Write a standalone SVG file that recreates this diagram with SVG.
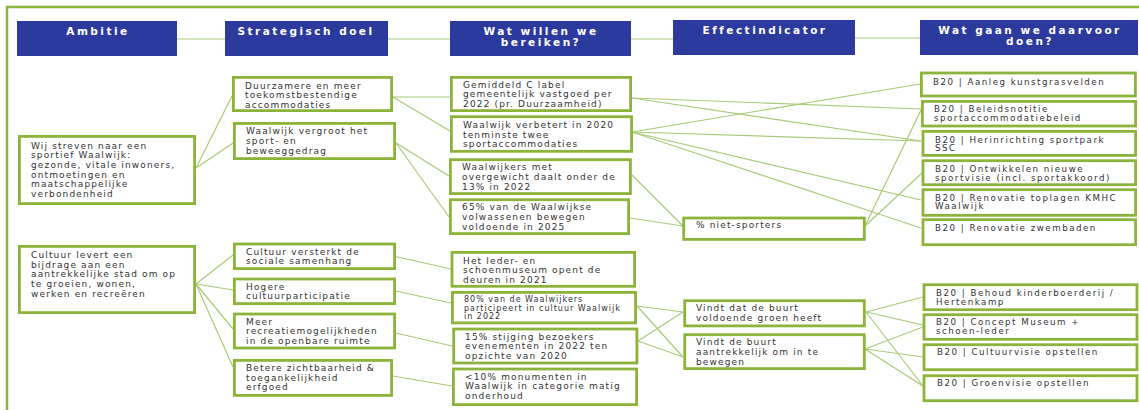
<svg xmlns="http://www.w3.org/2000/svg" width="1139" height="410" viewBox="0 0 1139 410">
<style>
text{font-family:"DejaVu Sans",Verdana,sans-serif;font-size:9px;letter-spacing:1.15px;fill:#333}
.hdr rect{fill:#2c3a9e}
.hdr text{fill:#fff;font-weight:bold;font-size:10.5px;letter-spacing:2.5px;text-anchor:middle}
.node rect{fill:#fff;stroke:#8db43a;stroke-width:2.8}
.r text{font-size:8.7px;letter-spacing:1.5px}
.sm{font-size:8px;letter-spacing:1px}
#connectors line{stroke:#aaca78;stroke-width:1.2}
</style>
<rect x="0" y="0" width="1139" height="410" fill="#fff"/>
<rect x="7" y="7" width="1145" height="420" fill="none" stroke="#8db43a" stroke-width="2.5"/>
<g id="connectors">
<line x1="177" y1="39" x2="225" y2="39"/>
<line x1="388" y1="39" x2="450" y2="39"/>
<line x1="631" y1="39" x2="673" y2="39"/>
<line x1="855" y1="38" x2="920" y2="38"/>
<line x1="196" y1="168" x2="232" y2="96"/>
<line x1="196" y1="168" x2="233" y2="143"/>
<line x1="196" y1="284" x2="233" y2="255"/>
<line x1="196" y1="284" x2="233" y2="290"/>
<line x1="196" y1="284" x2="233" y2="329"/>
<line x1="196" y1="284" x2="233" y2="367"/>
<line x1="393" y1="97" x2="450" y2="97"/>
<line x1="393" y1="97" x2="450" y2="131"/>
<line x1="396" y1="143" x2="449" y2="176"/>
<line x1="396" y1="143" x2="449" y2="217"/>
<line x1="393" y1="256" x2="451" y2="269"/>
<line x1="396" y1="291" x2="451" y2="303"/>
<line x1="396" y1="333" x2="452" y2="346"/>
<line x1="393" y1="376" x2="452" y2="386"/>
<line x1="632" y1="98" x2="921" y2="109"/>
<line x1="632" y1="98" x2="921" y2="141"/>
<line x1="632" y1="132" x2="920" y2="84"/>
<line x1="632" y1="132" x2="921" y2="141"/>
<line x1="632" y1="132" x2="921" y2="200"/>
<line x1="632" y1="132" x2="921" y2="228"/>
<line x1="632" y1="175" x2="683" y2="226"/>
<line x1="630" y1="218" x2="683" y2="226"/>
<line x1="865" y1="226" x2="922" y2="108"/>
<line x1="865" y1="226" x2="922" y2="173"/>
<line x1="637" y1="306" x2="683" y2="312"/>
<line x1="637" y1="306" x2="683" y2="357"/>
<line x1="638" y1="341" x2="683" y2="312"/>
<line x1="638" y1="341" x2="683" y2="357"/>
<line x1="866" y1="312" x2="923" y2="297"/>
<line x1="866" y1="312" x2="923" y2="325"/>
<line x1="866" y1="312" x2="923" y2="386"/>
<line x1="865" y1="349" x2="923" y2="327"/>
<line x1="865" y1="349" x2="923" y2="357"/>
<line x1="865" y1="349" x2="923" y2="386"/>
</g>
<g id="h-ambitie" class="hdr"><rect x="17" y="21" width="160" height="35"/><text x="98" y="34.5">Ambitie</text></g>
<g id="h-doel" class="hdr"><rect x="225" y="21" width="163" height="35"/><text x="306" y="34.5">Strategisch doel</text></g>
<g id="h-bereiken" class="hdr"><rect x="450" y="21" width="181" height="35"/><text x="541" y="34.5">Wat willen we</text><text x="541" y="45.5">bereiken?</text></g>
<g id="h-effect" class="hdr"><rect x="673" y="20" width="182" height="35"/><text x="765" y="34">Effectindicator</text></g>
<g id="h-doen" class="hdr"><rect x="920" y="20" width="218" height="35"/><text x="1030" y="34">Wat gaan we daarvoor</text><text x="1030" y="45">doen?</text></g>

<g id="a1" class="node"><rect x="19.4" y="136.4" width="175.2" height="67.2"/>
<text x="31" y="148.5">Wij streven naar een</text><text x="31" y="158.2">sportief Waalwijk:</text><text x="31" y="167.9">gezonde, vitale inwoners,</text><text x="31" y="177.6">ontmoetingen en</text><text x="31" y="187.3">maatschappelijke</text><text x="31" y="197">verbondenheid</text></g>
<g id="a2" class="node"><rect x="19.4" y="246.4" width="175.2" height="66.2"/>
<text x="31" y="257.8">Cultuur levert een</text><text x="31" y="267.5">bijdrage aan een</text><text x="31" y="277.2">aantrekkelijke stad om op</text><text x="31" y="286.9">te groeien, wonen,</text><text x="31" y="296.6">werken en recreëren</text></g>

<g id="s1" class="node"><rect x="233.4" y="77.4" width="158.2" height="33.2"/>
<text x="245" y="88.5">Duurzamere en meer</text><text x="245" y="98">toekomstbestendige</text><text x="245" y="107.5">accommodaties</text></g>
<g id="s2" class="node"><rect x="234.4" y="123.4" width="160.2" height="35.2"/>
<text x="246" y="134.2">Waalwijk vergroot het</text><text x="246" y="143.8">sport- en</text><text x="246" y="153.5">beweeggedrag</text></g>
<g id="s3" class="node"><rect x="234.4" y="244" width="160.2" height="24.6"/>
<text x="246" y="254.5">Cultuur versterkt de</text><text x="246" y="264.2">sociale samenhang</text></g>
<g id="s4" class="node"><rect x="234.4" y="279" width="160.2" height="24.6"/>
<text x="246" y="289.5">Hogere</text><text x="246" y="298.8">cultuurparticipatie</text></g>
<g id="s5" class="node"><rect x="234.4" y="314" width="160.2" height="34"/>
<text x="246" y="324.5">Meer</text><text x="246" y="334.2">recreatiemogelijkheden</text><text x="246" y="343.8">in de openbare ruimte</text></g>
<g id="s6" class="node"><rect x="234.4" y="360.4" width="157.2" height="35"/>
<text x="246" y="370.8">Betere zichtbaarheid &amp;</text><text x="246" y="380.5">toegankelijkheid</text><text x="246" y="390.2">erfgoed</text></g>

<g id="w1" class="node"><rect x="451.4" y="77.4" width="179.2" height="33.2"/>
<text x="463" y="87.5">Gemiddeld C label</text><text x="463" y="97.2">gemeentelijk vastgoed per</text><text x="463" y="106.9">2022 (pr. Duurzaamheid)</text></g>
<g id="w2" class="node"><rect x="451.4" y="116.7" width="180.2" height="34.6"/>
<text x="463" y="128.2">Waalwijk verbetert in 2020</text><text x="463" y="137.5">tenminste twee</text><text x="463" y="147.2">sportaccommodaties</text></g>
<g id="w3" class="node"><rect x="450.4" y="159.7" width="180" height="33.9"/>
<text x="462" y="170.2">Waalwijkers met</text><text x="462" y="179.8">overgewicht daalt onder de</text><text x="462" y="189.5">13% in 2022</text></g>
<g id="w4" class="node"><rect x="450.4" y="199.7" width="178.2" height="33.9"/>
<text x="462" y="210.2">65% van de Waalwijkse</text><text x="462" y="219.8">volwassenen bewegen</text><text x="462" y="229.5">voldoende in 2025</text></g>
<g id="w5" class="node"><rect x="452" y="252.4" width="182.6" height="33.9"/>
<text x="463" y="263.5">Het leder- en</text><text x="463" y="272.8">schoenmuseum opent de</text><text x="463" y="282.5">deuren in 2021</text></g>
<g id="w6" class="node"><rect x="452.4" y="292.4" width="183.2" height="30.5"/>
<text class="sm" x="464" y="302.3">80% van de Waalwijkers</text><text class="sm" x="464" y="310.7">participeert in cultuur Waalwijk</text><text class="sm" x="464" y="319">in 2022</text></g>
<g id="w7" class="node"><rect x="453.7" y="329" width="183.2" height="34"/>
<text x="465" y="339.5">15% stijging bezoekers</text><text x="465" y="349.2">evenementen in 2022 ten</text><text x="465" y="358.8">opzichte van 2020</text></g>
<g id="w8" class="node"><rect x="453.4" y="369" width="183.2" height="35.6"/>
<text x="465" y="379.5">&lt;10% monumenten in</text><text x="465" y="389.2">Waalwijk in categorie matig</text><text x="465" y="398.8">onderhoud</text></g>

<g id="e1" class="node"><rect x="683.7" y="218" width="180.6" height="21.4"/>
<text x="696" y="227.8">% niet-sporters</text></g>
<g id="e2" class="node"><rect x="684.7" y="300.7" width="179.6" height="25.2"/>
<text x="696" y="311.2">Vindt dat de buurt</text><text x="696" y="320.8">voldoende groen heeft</text></g>
<g id="e3" class="node"><rect x="684.7" y="334.7" width="179.6" height="33.9"/>
<text x="696" y="345.2">Vindt de buurt</text><text x="696" y="354.8">aantrekkelijk om in te</text><text x="696" y="364.5">bewegen</text></g>

<g id="r1" class="node r"><rect x="921.4" y="73" width="214" height="23"/>
<text x="933" y="84.5">B20 | Aanleg kunstgrasvelden</text></g>
<g id="r2" class="node r"><rect x="922.4" y="101.4" width="213.2" height="24.6"/>
<text x="934" y="112.2">B20 | Beleidsnotitie</text><text x="934" y="120.8">sportaccommodatiebeleid</text></g>
<g id="r3" class="node r"><rect x="923" y="131.4" width="212.6" height="24"/>
<text x="935" y="142.5">B20 | Herinrichting sportpark</text><text x="935" y="150.8">SSC</text></g>
<g id="r4" class="node r"><rect x="923" y="160.7" width="212.6" height="24"/>
<text x="935" y="171.8">B20 | Ontwikkelen nieuwe</text><text x="935" y="180.8">sportvisie (incl. sportakkoord)</text></g>
<g id="r5" class="node r"><rect x="923" y="189.7" width="212.6" height="25.6"/>
<text x="935" y="200.8">B20 | Renovatie toplagen KMHC</text><text x="935" y="209.2">Waalwijk</text></g>
<g id="r6" class="node r"><rect x="923" y="219.7" width="212.6" height="25"/>
<text x="935" y="230.8">B20 | Renovatie zwembaden</text></g>
<g id="r7" class="node r"><rect x="924" y="284.7" width="213" height="25"/>
<text x="936" y="295.8">B20 | Behoud kinderboerderij /</text><text x="936" y="304.5">Hertenkamp</text></g>
<g id="r8" class="node r"><rect x="924" y="314.7" width="213" height="24.6"/>
<text x="936" y="325.2">B20 | Concept Museum +</text><text x="936" y="333.5">schoen-leder</text></g>
<g id="r9" class="node r"><rect x="924" y="344.7" width="213" height="25"/>
<text x="937" y="355.2">B20 | Cultuurvisie opstellen</text></g>
<g id="r10" class="node r"><rect x="924" y="375.7" width="213" height="25"/>
<text x="937" y="386.2">B20 | Groenvisie opstellen</text></g>
</svg>
